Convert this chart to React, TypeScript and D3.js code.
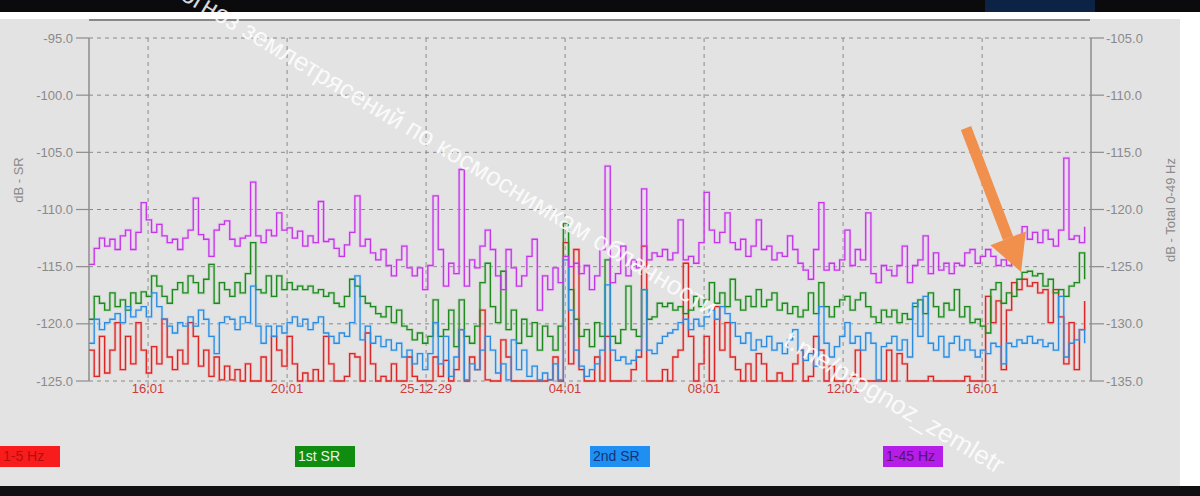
import React from "react";
import * as d3 from "d3";

// Schumann resonance monitor: 4 bands, sampled every 9 min
const startTime = new Date(2025, 11, 28, 14, 19);
const stepMinutes = 9;

const hz1to5 = [
  -122.3,-124.6,-121.1,-124.3,-122.3,-119.9,-124.0,-121.1,-123.5,-119.9,
  -122.3,-124.3,-122.0,-123.5,-119.6,-122.9,-124.0,-122.3,-123.5,-119.9,
  -121.1,-123.7,-122.3,-124.6,-122.9,-124.9,-123.7,-124.9,-124.0,-125.0,
  -123.5,-125.0,-125.0,-122.9,-125.0,-121.1,-122.3,-123.7,
  -121.1,-123.5,-125.0,-124.3,-125.0,-124.0,-125.0,-121.1,-123.5,-125.0,
  -125.0,-124.6,-122.6,-122.9,-125.0,-120.8,-123.5,-125.0,-124.6,-125.0,
  -123.5,-125.0,-125.0,-122.9,-124.6,-125.0,-125.0,-125.0,-122.9,-124.6,
  -123.2,-125.0,-124.0,-120.5,-125.0,-122.9,-124.0,-118.8,
  -124.9,-125.0,-125.0,-121.4,-122.9,-125.0,-125.0,-125.0,-125.0,-125.0,
  -125.0,-125.0,-124.9,-122.9,-125.0,-112.9,-123.5,-113.5,-124.0,-125.0,
  -125.0,-122.9,-125.0,-121.1,-125.0,-125.0,-125.0,-125.0,-124.0,-122.9,
  -113.2,-125.0,-125.0,-125.0,-124.0,-125.0,-122.9,-122.3,-114.7,
  -121.1,-125.0,-123.5,-121.1,-125.0,-118.5,-122.3,-119.9,-122.9,-124.0,
  -125.0,-123.5,-125.0,-122.6,-123.5,-125.0,-125.0,-124.3,-125.0,-125.0,
  -123.5,-122.3,-125.0,-124.6,-121.1,-122.3,-125.0,-123.7,-125.0,-125.0,
  -125.0,-124.6,-122.3,-125.0,-125.0,-125.0,-125.0,-125.0,
  -122.3,-125.0,-122.6,-123.5,-125.0,-125.0,-125.0,-125.0,-124.6,-125.0,
  -125.0,-125.0,-125.0,-125.0,-125.0,-124.6,-125.0,-125.0,-125.0,-117.6,
  -119.9,-118.0,-124.0,-118.8,-116.4,-117.0,-116.1,-116.7,-116.4,-117.3,
  -117.0,-119.9,-117.0,-119.4,-123.5,-119.9,-124.0,-120.5,-118.0,
];

const firstSR = [
  -119.6,-117.6,-118.2,-118.8,-117.3,-118.5,-117.9,-118.8,-117.3,-118.2,
  -117.2,-117.6,-115.8,-116.7,-117.6,-118.2,-117.0,-116.4,-117.3,-115.8,
  -116.4,-117.3,-116.1,-114.8,-118.2,-116.4,-117.0,-117.6,-116.4,-117.3,
  -115.6,-112.9,-117.0,-117.3,-115.8,-117.6,-115.8,-117.0,
  -116.4,-117.0,-116.7,-117.0,-116.7,-117.3,-117.0,-117.6,-117.3,-118.2,
  -118.5,-117.6,-116.1,-116.7,-117.6,-118.2,-118.5,-119.1,-119.4,-118.5,
  -119.9,-118.8,-120.2,-120.5,-121.4,-120.8,-121.7,-121.1,-117.9,-121.1,
  -120.5,-118.8,-122.0,-117.9,-121.1,-121.7,-120.2,-116.4,
  -114.7,-118.5,-119.9,-115.4,-120.5,-118.8,-121.7,-119.6,-121.1,-119.9,
  -122.3,-120.2,-121.1,-122.3,-120.2,-111.2,-117.0,-119.6,-121.1,-120.5,
  -122.0,-119.9,-121.1,-114.4,-121.1,-121.7,-120.5,-116.7,-120.5,-121.1,
  -117.0,-119.6,-119.4,-118.2,-118.5,-118.2,-118.8,-118.5,-119.1,
  -118.8,-117.6,-118.5,-117.9,-116.4,-118.2,-117.3,-118.5,-116.1,-117.9,
  -118.8,-117.6,-118.5,-117.0,-118.5,-117.9,-117.3,-118.8,-118.2,-119.1,
  -118.5,-119.4,-118.8,-117.3,-119.1,-116.4,-118.5,-119.4,-118.5,-117.9,
  -117.6,-118.8,-117.9,-117.3,-118.5,-119.4,-119.9,-118.8,
  -119.4,-118.8,-119.9,-119.1,-119.6,-118.5,-117.9,-119.1,-117.3,-118.5,
  -119.4,-118.2,-118.8,-117.0,-119.4,-118.5,-119.9,-119.6,-120.2,-120.8,
  -117.0,-116.4,-118.2,-117.3,-117.6,-116.1,-115.5,-115.4,-115.8,-115.6,
  -116.7,-116.1,-117.3,-117.0,-117.6,-116.7,-116.4,-113.8,-116.1,
];

const secondSR = [
  -121.7,-119.6,-120.5,-119.9,-119.6,-119.1,-119.9,-118.5,-119.4,-118.8,
  -118.5,-119.4,-117.3,-118.5,-119.6,-120.2,-120.8,-119.9,-120.2,-119.4,
  -120.2,-118.8,-119.6,-121.1,-122.6,-119.9,-119.4,-119.6,-120.5,-119.4,
  -119.9,-116.7,-120.2,-121.7,-120.2,-121.1,-120.2,-120.8,
  -119.9,-119.4,-120.2,-119.6,-120.5,-119.9,-119.4,-120.8,-121.1,-121.7,
  -120.8,-121.1,-119.9,-115.8,-121.4,-120.2,-121.7,-121.1,-122.0,-121.4,
  -122.3,-121.7,-122.9,-122.3,-123.5,-122.6,-124.0,-122.6,-119.9,-123.5,
  -121.1,-124.6,-122.9,-120.5,-124.9,-123.5,-124.0,-122.3,
  -121.1,-122.3,-124.3,-123.5,-124.9,-121.4,-124.0,-122.3,-124.6,-123.7,
  -124.9,-124.3,-124.9,-123.5,-124.9,-114.4,-118.8,-122.3,-123.7,-124.6,
  -124.0,-123.5,-122.3,-116.6,-122.3,-123.2,-122.9,-123.5,-123.2,-122.3,
  -117.0,-122.3,-122.6,-121.7,-121.1,-120.8,-120.5,-119.9,-119.6,
  -120.5,-119.6,-120.2,-119.4,-118.8,-119.6,-118.5,-119.1,-119.9,-121.1,
  -121.7,-120.8,-122.3,-121.4,-122.0,-121.1,-122.3,-121.7,-122.6,-121.4,
  -120.5,-122.3,-123.2,-122.6,-123.7,-118.5,-121.7,-122.9,-122.0,-121.1,
  -119.9,-121.7,-121.1,-122.3,-120.8,-121.7,-124.9,-122.0,
  -121.7,-121.1,-122.3,-121.4,-122.9,-118.2,-121.1,-117.6,-121.7,-122.3,
  -121.1,-122.9,-121.7,-121.1,-122.3,-121.4,-122.3,-122.9,-122.3,-122.6,
  -121.7,-122.0,-123.5,-121.7,-122.0,-121.4,-121.7,-121.1,-121.7,-121.4,
  -122.0,-121.7,-122.3,-117.6,-122.9,-121.7,-121.4,-120.5,-121.7,
];

const hz1to45 = [
  -114.8,-113.4,-112.5,-113.2,-112.6,-113.5,-112.3,-111.8,-113.5,-112.0,
  -109.4,-110.9,-112.0,-111.3,-112.3,-112.9,-112.6,-113.5,-112.5,-111.8,
  -109.0,-112.2,-112.6,-114.1,-111.8,-111.3,-111.0,-112.6,-113.2,-112.5,
  -112.3,-107.6,-112.3,-112.9,-111.8,-112.3,-110.3,-111.8,
  -111.6,-112.5,-111.9,-113.2,-112.3,-112.9,-109.3,-112.8,-112.6,-113.4,
  -114.1,-113.1,-112.0,-108.8,-113.2,-112.6,-113.8,-114.4,-113.5,-114.9,
  -115.8,-114.4,-113.2,-115.1,-115.8,-115.1,-117.0,-114.9,-108.8,-113.5,
  -116.7,-114.7,-115.6,-106.5,-116.7,-114.4,-115.1,-113.2,
  -111.8,-113.5,-115.8,-117.0,-113.5,-115.1,-116.7,-115.8,-114.1,-112.6,
  -118.8,-115.8,-117.0,-115.1,-116.4,-114.1,-115.0,-114.7,-115.6,-114.9,
  -117.0,-115.8,-113.5,-106.2,-116.4,-115.6,-113.2,-115.8,-114.4,-115.1,
  -108.2,-114.4,-113.8,-114.1,-113.5,-114.4,-113.8,-110.9,-114.4,
  -114.1,-114.7,-112.9,-108.5,-111.8,-112.9,-112.0,-110.3,-112.9,-113.5,
  -112.6,-114.1,-113.2,-110.9,-113.5,-113.2,-114.4,-113.8,-114.1,-112.3,
  -113.5,-114.7,-115.3,-116.1,-113.5,-109.4,-115.3,-114.7,-115.3,-114.4,
  -111.8,-114.9,-113.5,-114.4,-110.3,-115.6,-116.4,-114.9,
  -115.3,-115.8,-114.9,-113.2,-116.4,-114.9,-114.4,-112.3,-115.6,-113.8,
  -115.3,-114.7,-115.6,-114.7,-114.9,-113.8,-113.5,-114.7,-114.1,-113.5,
  -114.1,-114.9,-114.4,-114.9,-114.7,-112.3,-111.5,-112.6,-112.0,-112.9,
  -111.8,-112.6,-113.2,-111.8,-105.5,-112.6,-112.3,-112.9,-111.5,
];

const leftTicks = [-95, -100, -105, -110, -115, -120, -125];
const rightTicks = [-105, -110, -115, -120, -125, -130, -135];
const timeTicks = [
  new Date(2025, 11, 28, 16, 1),
  new Date(2025, 11, 28, 20, 1),
  new Date(2025, 11, 29, 0, 1),
  new Date(2025, 11, 29, 4, 1),
  new Date(2025, 11, 29, 8, 1),
  new Date(2025, 11, 29, 12, 1),
  new Date(2025, 11, 29, 16, 1),
];
const timeLabels = ["16:01", "20:01", "25-12-29", "04:01", "08:01", "12:01", "16:01"];

const series = [
  { name: "1-5 Hz", values: hz1to5, color: "#dc2626", halo: "#f2a6a6", box: "#f81c1c", text: "#b30f0f", lx: 0 },
  { name: "1st SR", values: firstSR, color: "#1e8a1e", halo: "#a6d2a6", box: "#108c10", text: "#e6f6e6", lx: 295 },
  { name: "2nd SR", values: secondSR, color: "#2b8ce0", halo: "#acd5f6", box: "#1f8ff2", text: "#12357a", lx: 590 },
  { name: "1-45 Hz", values: hz1to45, color: "#c437e8", halo: "#eab0f6", box: "#b41ee8", text: "#5a1170", lx: 883 },
];

const FONT = "'Liberation Sans', Arial, sans-serif";

export default function App() {
  const left = 89, right = 1091, top = 38, bottom = 381;
  const endTime = new Date(startTime.getTime() + (28 * 60 + 50) * 60000);

  const x = d3.scaleTime().domain([startTime, endTime]).range([left, right]);
  const yL = d3.scaleLinear().domain([-125, -95]).range([bottom, top]);
  const yR = d3.scaleLinear().domain([-135, -105]).range([bottom, top]);

  const timeAt = (i: number) => new Date(startTime.getTime() + i * stepMinutes * 60000);
  const line = d3
    .line<number>()
    .x((_, i) => x(timeAt(i)))
    .y((d) => yL(d))
    .curve(d3.curveStepAfter);

  // orange arrow pointing at the jump in the 1-5 Hz band
  const tail: [number, number] = [966, 128];
  const tip: [number, number] = [1021, 272];
  const len = Math.hypot(tip[0] - tail[0], tip[1] - tail[1]);
  const ux = (tip[0] - tail[0]) / len, uy = (tip[1] - tail[1]) / len;
  const headLen = 36, headHalf = 19;
  const base: [number, number] = [tip[0] - ux * headLen, tip[1] - uy * headLen];
  const head = [
    tip,
    [base[0] + uy * headHalf, base[1] - ux * headHalf],
    [base[0] - uy * headHalf, base[1] + ux * headHalf],
  ];

  return (
    <svg
      width={1200}
      height={496}
      style={{ position: "fixed", left: 0, top: 0, fontFamily: FONT }}
    >
      <rect x={0} y={0} width={1200} height={496} fill="#ffffff" />
      <rect x={0} y={19} width={1180} height={467} fill="#e3e3e3" />
      <rect x={0} y={0} width={1200} height={12} fill="#0b0b0d" />
      <rect x={985} y={0} width={110} height={12} fill="#0c2346" />
      <line x1={89} x2={1090} y1={20} y2={20} stroke="#6a6a6a" strokeWidth={1.5} />
      <rect x={0} y={486} width={1200} height={10} fill="#101012" />

      {/* grid */}
      {leftTicks.map((t) => (
        <line key={"h" + t} x1={left} x2={right} y1={yL(t)} y2={yL(t)}
          stroke="#8a8a8a" strokeDasharray="4,4" strokeWidth={1} />
      ))}
      {timeTicks.map((t, i) => (
        <line key={"v" + i} x1={x(t)} x2={x(t)} y1={top} y2={398}
          stroke="#8a8a8a" strokeDasharray="4,4" strokeWidth={1} />
      ))}

      {/* axes */}
      <line x1={left} x2={left} y1={top} y2={bottom} stroke="#8c8c8c" strokeWidth={1.5} />
      <line x1={right} x2={right} y1={top} y2={bottom} stroke="#8c8c8c" strokeWidth={1.5} />
      {leftTicks.map((t) => (
        <g key={"lt" + t}>
          <line x1={76} x2={left} y1={yL(t)} y2={yL(t)} stroke="#8c8c8c" strokeWidth={1.2} />
          <text x={73} y={yL(t)} dy="0.35em" textAnchor="end" fontSize={13} fill="#8a8a8a">
            {t.toFixed(1)}
          </text>
        </g>
      ))}
      {rightTicks.map((t) => (
        <g key={"rt" + t}>
          <line x1={right} x2={1104} y1={yR(t)} y2={yR(t)} stroke="#8c8c8c" strokeWidth={1.2} />
          <text x={1106} y={yR(t)} dy="0.35em" textAnchor="start" fontSize={13} fill="#8a8a8a">
            {t.toFixed(1)}
          </text>
        </g>
      ))}
      {timeTicks.map((t, i) => (
        <text key={"xl" + i} x={x(t)} y={393} textAnchor="middle" fontSize={13} fill="#cf3a3a">
          {timeLabels[i]}
        </text>
      ))}
      <text transform="translate(23,180) rotate(-90)" textAnchor="middle" fontSize={13} fill="#8a8a8a">
        dB - SR
      </text>
      <text transform="translate(1175,210) rotate(-90)" textAnchor="middle" fontSize={13} fill="#8a8a8a">
        dB - Total 0-49 Hz
      </text>

      {/* series */}
      {series.map((s) => (
        <path key={"halo" + s.name} d={line(s.values) ?? ""} fill="none"
          stroke={s.halo} strokeWidth={3} strokeOpacity={0.55} />
      ))}
      {series.map((s) => (
        <path key={s.name} d={line(s.values) ?? ""} fill="none"
          stroke={s.color} strokeWidth={1.3} />
      ))}

      {/* legend */}
      {series.map((s) => (
        <g key={"lg" + s.name}>
          <rect x={s.lx} y={446} width={60} height={21} fill={s.box} />
          <text x={s.lx + 3} y={461} fontSize={14} fill={s.text}>{s.name}</text>
        </g>
      ))}

      {/* annotation arrow */}
      <line x1={tail[0]} y1={tail[1]} x2={base[0]} y2={base[1]}
        stroke="#f0904c" strokeWidth={11} />
      <polygon points={head.map((p) => p.join(",")).join(" ")} fill="#f0904c" />

      {/* watermark */}
      <g fill="#ffffff" fillOpacity={0.85} fontSize={26}>
        <text transform="translate(398,130) rotate(31)" textAnchor="end">
          Прогноз землетрясений
        </text>
        <text transform="translate(404,133) rotate(31)" textAnchor="start">
          по космоснимкам облачности
        </text>
        <text transform="translate(782,345) rotate(31)" textAnchor="start">
          t.me/prognoz_zemletr
        </text>
      </g>
    </svg>
  );
}
